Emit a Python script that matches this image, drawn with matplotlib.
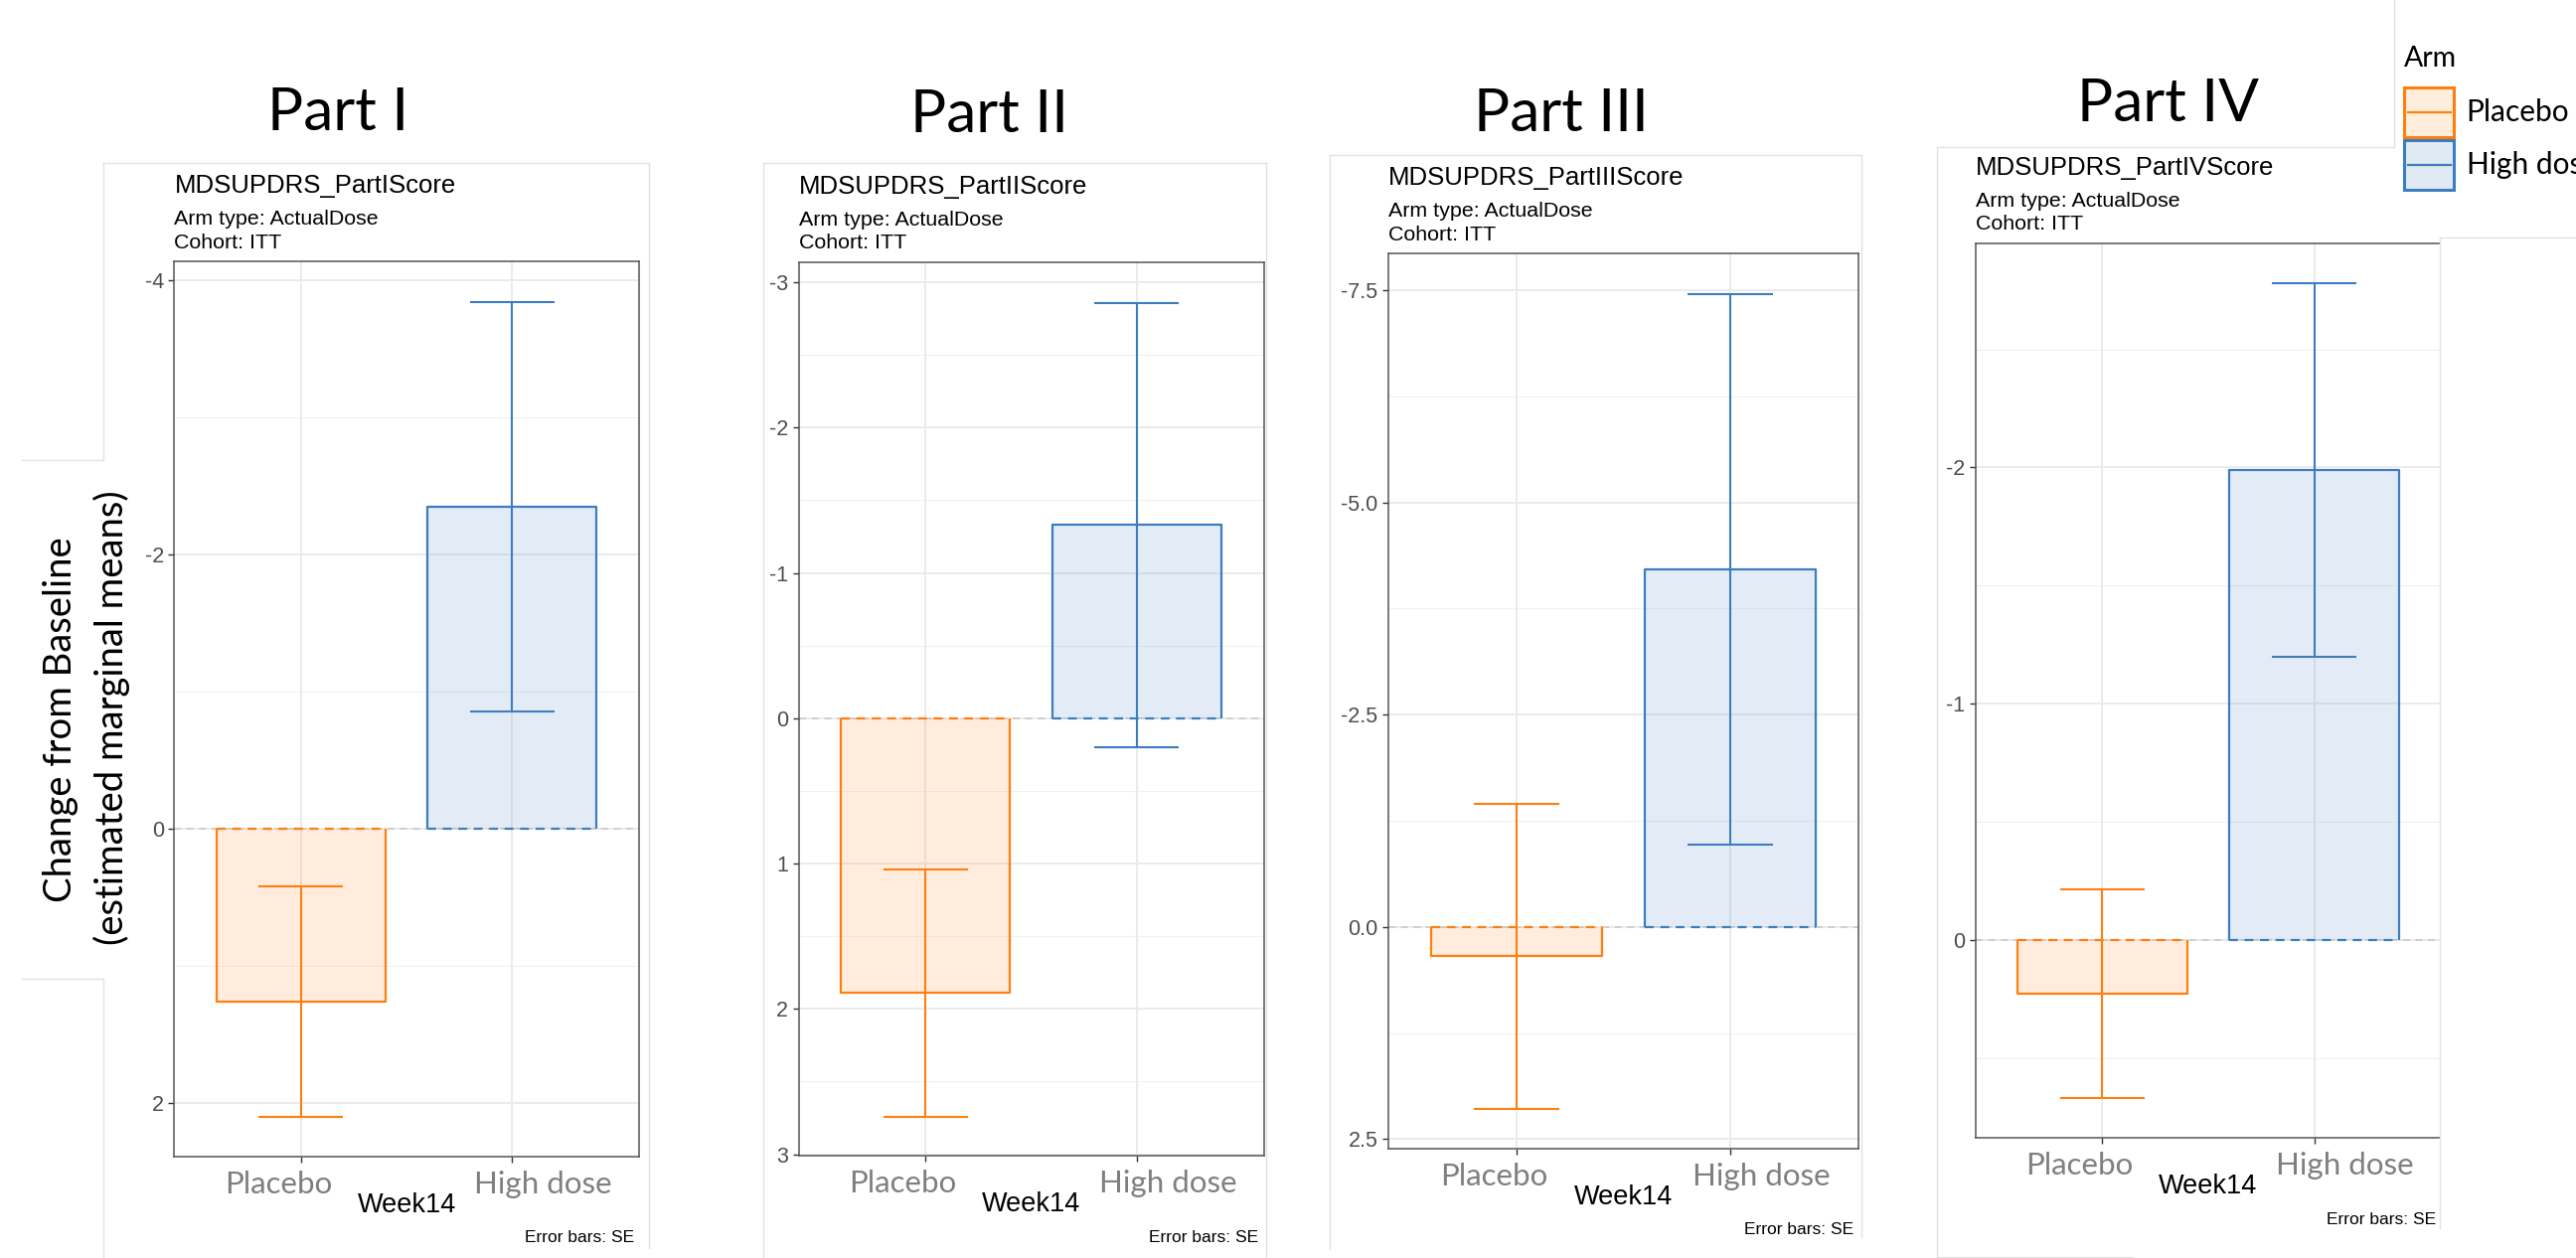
import matplotlib
matplotlib.use("Agg")
import matplotlib.pyplot as plt
from matplotlib.lines import Line2D
from matplotlib.patches import Rectangle

# ---------------- data ----------------
arms = ["Placebo", "High dose"]
part_titles = ["Part I", "Part II", "Part III", "Part IV"]
score_names = ["MDSUPDRS_PartIScore", "MDSUPDRS_PartIIScore",
               "MDSUPDRS_PartIIIScore", "MDSUPDRS_PartIVScore"]

p1_mean = [1.26, -2.35]
p1_lo = [0.42, -3.84]
p1_hi = [2.10, -0.86]

p2_mean = [1.89, -1.33]
p2_lo = [1.04, -2.86]
p2_hi = [2.74, 0.20]

p3_mean = [0.34, -4.21]
p3_lo = [-1.45, -7.45]
p3_hi = [2.14, -0.97]

p4_mean = [0.23, -1.99]
p4_lo = [-0.215, -2.78]
p4_hi = [0.67, -1.20]

p1_ticks = [-4, -2, 0, 2]
p1_ticklabels = ["-4", "-2", "0", "2"]
p2_ticks = [-3, -2, -1, 0, 1, 2, 3]
p2_ticklabels = ["-3", "-2", "-1", "0", "1", "2", "3"]
p3_ticks = [-7.5, -5.0, -2.5, 0.0, 2.5]
p3_ticklabels = ["-7.5", "-5.0", "-2.5", "0.0", "2.5"]
p4_ticks = [-2, -1, 0]
p4_ticklabels = ["-2", "-1", "0"]

p1_minor = [-3, -1, 1]
p2_minor = [-2.5, -1.5, -0.5, 0.5, 1.5, 2.5]
p3_minor = [-6.25, -3.75, -1.25, 1.25]
p4_minor = [-2.5, -1.5, -0.5, 0.5]

p1_ylim = (2.39, -4.14)
p2_ylim = (3.01, -3.14)
p3_ylim = (2.61, -7.93)
p4_ylim = (0.84, -2.95)

arm_type_text = "Arm type: ActualDose"
cohort_text = "Cohort: ITT"
xlab = "Week14"
caption = "Error bars: SE"
ylab1 = "Change from Baseline"
ylab2 = "(estimated marginal means)"
legend_title = "Arm"

# ---------------- style ----------------
W, H = 2592, 1266
DPI = 100
CAL = ["Lato", "DejaVu Sans"]
ARI = ["Liberation Sans", "DejaVu Sans"]
edge_cols = ["#FF7F0E", "#3C7DC0"]
fill_cols = ["#FFEEDC", "#E0EAF3"]
box_col = "#E2E2E2"

fig = plt.figure(figsize=(W / DPI, H / DPI), dpi=DPI)
fig.patch.set_facecolor("white")


def fx(x):
    return x / W


def fy(y):
    return 1 - y / H


def fline(xs, ys, color=box_col, lw=1.0, z=1):
    fig.add_artist(Line2D([fx(v) for v in xs], [fy(v) for v in ys],
                          transform=fig.transFigure, color=color, lw=lw, zorder=z))


# panel geometry in pixel coords: left, top, right, bottom
panel_boxes = [
    (175.4, 263.0, 643.0, 1164.0),
    (803.5, 263.6, 1271.6, 1163.0),
    (1396.9, 255.3, 1870.2, 1155.8),
    (1987.5, 244.7, 2456.4, 1145.4),
]
title_pos = [(340, 130.6), (996, 133.0), (1571, 132.4), (2181, 122.5)]

# light gray screenshot borders
fline([103.6, 653], [163.8, 163.8])
fline([653, 653], [163.8, 1256])
fline([103.6, 103.6], [163.8, 463])
fline([103.6, 103.6], [984.5, 1266])
fline([22, 103.6], [463, 463])
fline([22, 103.6], [984.5, 984.5])
fline([768, 768], [163.6, 1266])
fline([768, 1274], [163.6, 163.6])
fline([1274, 1274], [163.6, 1266])
fline([1338.4, 1338.4], [156, 1257])
fline([1338.4, 1873.4], [156, 156])
fline([1873.4, 1873.4], [156, 1245])
fline([2409.3, 2409.3], [0, 147.7])
fline([1949.3, 2409.3], [147.7, 147.7])
fline([1949.3, 1949.3], [147.7, 1264.7])
fline([1949.3, 2145.7], [1264.7, 1264.7])

means = [p1_mean, p2_mean, p3_mean, p4_mean]
los = [p1_lo, p2_lo, p3_lo, p4_lo]
his = [p1_hi, p2_hi, p3_hi, p4_hi]
ticks = [p1_ticks, p2_ticks, p3_ticks, p4_ticks]
ticklabels = [p1_ticklabels, p2_ticklabels, p3_ticklabels, p4_ticklabels]
minors = [p1_minor, p2_minor, p3_minor, p4_minor]
ylims = [p1_ylim, p2_ylim, p3_ylim, p4_ylim]

xpos = [1, 2]
bw = 0.8
cap = 0.2

for i in range(4):
    L, T, R, B = panel_boxes[i]
    ax = fig.add_axes([fx(L), fy(B), (R - L) / W, (B - T) / H])
    ax.set_facecolor("white")
    ax.set_xlim(0.4, 2.6)
    ax.set_ylim(*ylims[i])

    for v in minors[i]:
        ax.axhline(v, color="#F1F1F1", lw=0.8, zorder=0)
    for v in ticks[i]:
        ax.axhline(v, color="#EBEBEB", lw=1.4, zorder=0)
    for v in xpos:
        ax.axvline(v, color="#EBEBEB", lw=1.4, zorder=0)
    ax.axhline(0, color="#CDCDCD", lw=1.3, ls=(0, (4, 3)), zorder=1)

    for j in range(2):
        x = xpos[j]
        m = means[i][j]
        ax.vlines(x, los[i][j], his[i][j], color=edge_cols[j], lw=1.5, zorder=2)
        ax.hlines([los[i][j], his[i][j]], x - cap, x + cap, color=edge_cols[j], lw=1.5, zorder=2)
        ax.bar(x, m, width=bw, color=edge_cols[j], alpha=0.14, edgecolor="none", zorder=3)
        ax.plot([x - bw / 2, x - bw / 2, x + bw / 2, x + bw / 2], [0, m, m, 0],
                color=edge_cols[j], lw=1.6, zorder=4, solid_capstyle="butt")
        ax.plot([x - bw / 2, x + bw / 2], [0, 0], color=edge_cols[j], lw=1.6,
                ls=(0, (4, 3)), zorder=4)

    for s in ax.spines.values():
        s.set_color("#555555")
        s.set_linewidth(1.1)
    ax.set_yticks(ticks[i])
    ax.set_yticklabels(ticklabels[i], family=ARI, fontsize=15.5, color="#4D4D4D")
    ax.set_xticks(xpos)
    ax.set_xticklabels([])
    ax.tick_params(axis="both", direction="out", length=4.5, width=1.0, color="#333333", pad=3)

    # gray category labels (overlay)
    ax.annotate(arms[0], xy=(xpos[0], 0), xycoords=("data", "axes fraction"),
                xytext=(-23, -28), textcoords="offset pixels", ha="center", va="center",
                family=CAL, fontsize=22.5, color="#7F7F7F")
    ax.annotate(arms[1], xy=(xpos[1], 0), xycoords=("data", "axes fraction"),
                xytext=(31, -28), textcoords="offset pixels", ha="center", va="center",
                family=CAL, fontsize=22.5, color="#7F7F7F")

    # x-axis title
    fig.text(fx((L + R) / 2), fy(B + 49), xlab, ha="center", va="center",
             family=ARI, fontsize=19.5, color="black")
    # caption
    fig.text(fx(R - 5), fy(B + 82), caption, ha="right", va="center",
             family=ARI, fontsize=12.5, color="black")
    # subtitles
    fig.text(fx(L), fy(T - 69), score_names[i], ha="left", va="baseline",
             family=ARI, fontsize=18.5, color="black")
    fig.text(fx(L), fy(T - 37), arm_type_text, ha="left", va="baseline",
             family=ARI, fontsize=15.4, color="black")
    fig.text(fx(L), fy(T - 13.5), cohort_text, ha="left", va="baseline",
             family=ARI, fontsize=15.4, color="black")
    # big part title
    tx, ty = title_pos[i]
    fig.text(fx(tx), fy(ty), part_titles[i], ha="center", va="baseline",
             family=CAL, fontsize=43.5, color="black")

# white overlay box at right (covers panel IV right edge)
fig.add_artist(Rectangle((fx(2454.6), 0), 1 - fx(2454.6), fy(238.5), transform=fig.transFigure,
                         facecolor="white", edgecolor="none", zorder=10))
fline([2454.6, 2454.6], [238.5, 1236], z=11)
fline([2454.6, 2592], [238.5, 238.5], z=11)

# y-axis label
fig.text(fx(61), fy(724), ylab1, rotation=90, ha="center", va="center",
         family=CAL, fontsize=27.5, color="black")
fig.text(fx(112), fy(722), ylab2, rotation=90, ha="center", va="center",
         family=CAL, fontsize=27.5, color="black")

# legend
fig.text(fx(2419), fy(66.7), legend_title, ha="left", va="baseline",
         family=CAL, fontsize=20.5, color="black")
key_tops = [88.3, 141.0]
key_h = 49.5
for j in range(2):
    t = key_tops[j]
    fig.add_artist(Rectangle((fx(2419.3), fy(t + key_h)), 50 / W, key_h / H,
                             transform=fig.transFigure, facecolor=fill_cols[j],
                             edgecolor=edge_cols[j], lw=2.2, zorder=12))
    fline([2423, 2465.7], [t + key_h / 2, t + key_h / 2], color=edge_cols[j], lw=1.6, z=13)
    fig.text(fx(2481.7), fy(t + key_h / 2), arms[j], ha="left", va="center",
             family=CAL, fontsize=21.5, color="black", zorder=13)

fig.savefig("out.png", dpi=DPI, facecolor="white")
